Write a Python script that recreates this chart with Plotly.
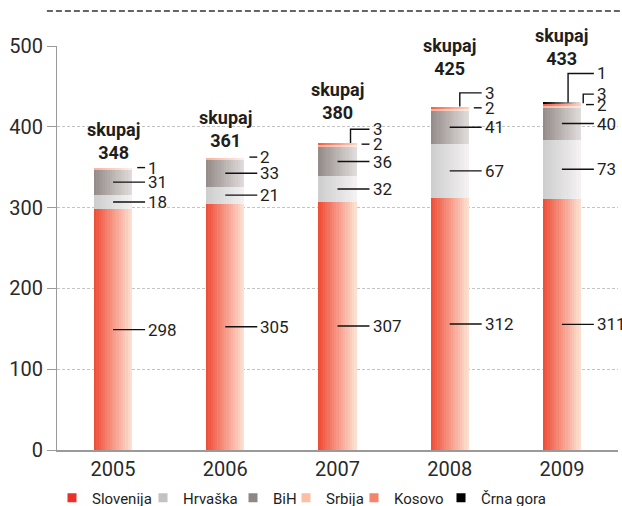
import plotly.graph_objects as go

# ---------------- data ----------------
years = ['2005', '2006', '2007', '2008', '2009']
slovenija = [298, 305, 307, 312, 311]
hrvaska = [18, 21, 32, 67, 73]
bih = [31, 33, 36, 41, 40]
srbija = [1, 2, 2, 2, 2]
kosovo = [0, 0, 3, 3, 3]
crna_gora = [0, 0, 0, 0, 1]
totals = [348, 361, 380, 425, 433]
y_ticks = [0, 100, 200, 300, 400, 500]
total_word = 'skupaj'

# ---------------- styles ----------------
FONT = 'Roboto'
TXT = '#1e1e1e'
series = [
    # name, values, legend colour, gradient left, gradient right
    ('Slovenija', slovenija, '#ea3128', (239, 80, 58), (253, 223, 208)),
    ('Hrvaška', hrvaska, '#c2c2c2', (206, 206, 206), (243, 241, 241)),
    ('BiH', bih, '#8d8785', (150, 141, 139), (223, 219, 218)),
    ('Srbija', srbija, '#fbbfa6', (251, 180, 155), (255, 236, 228)),
    ('Kosovo', kosovo, '#f4846a', (243, 98, 74), (253, 208, 192)),
    ('Črna gora', crna_gora, '#000000', (0, 0, 0), (226, 226, 226)),
]
main_labelled = ['Slovenija', 'Hrvaška', 'BiH']
dash_labelled = ['Srbija']
# bracket labels: (series, year index, x offset of riser, rise in data units above segment top)
brackets = [
    ('Kosovo', 2, 0.116, 17),
    ('Kosovo', 3, 0.09, 17),
    ('Kosovo', 4, 0.19, 11.5),
    ('Črna gora', 4, 0.055, 36),
]
total_shift = [4, 5, 18, 26, 29]
legend_px = [52, 143, 233, 286, 354, 441]

BAR_W = 0.34
N_STRIPS = 17
LINE_END = 0.285
TEXT_X = 0.295

xs = list(range(len(years)))

# cumulative bases
bases = {}
running = [0] * len(years)
for name, vals, *_ in series:
    bases[name] = list(running)
    running = [r + v for r, v in zip(running, vals)]

fig = go.Figure()

step = BAR_W / N_STRIPS
for name, vals, lc, c0, c1 in series:
    for k in range(N_STRIPS):
        t = k / (N_STRIPS - 1)
        col = 'rgb(%d,%d,%d)' % tuple(round(a + (b - a) * t) for a, b in zip(c0, c1))
        w = step * 1.25 if k < N_STRIPS - 1 else step
        fig.add_trace(go.Bar(
            x=xs, y=vals, base=bases[name], width=[w] * len(xs),
            offset=[-BAR_W / 2 + k * step] * len(xs),
            marker=dict(color=col, line=dict(width=0)),
            showlegend=False, hoverinfo='skip'))

# legend entries (one legend per entry for placement)
layout_legends = {}
for i, (name, vals, lc, c0, c1) in enumerate(series):
    key = 'legend' if i == 0 else 'legend%d' % (i + 1)
    fig.add_trace(go.Scatter(
        x=[None], y=[None], mode='markers', name=name, legend=key,
        marker=dict(symbol='square', size=9, color=lc, line=dict(width=0))))
    layout_legends[key] = dict(
        x=(legend_px[i] - 57) / 561, xanchor='left', y=-0.119, yanchor='middle',
        orientation='h', bgcolor='rgba(0,0,0,0)', itemwidth=30,
        font=dict(family=FONT, size=15, color=TXT))

shapes = []
annotations = []
LC = '#111111'

def seg_line(x0, y0, x1, y1):
    shapes.append(dict(type='line', xref='x', yref='y', x0=x0, y0=y0, x1=x1, y1=y1,
                       line=dict(color=LC, width=1.4)))

def label(x, y, txt):
    annotations.append(dict(x=x, y=y, xref='x', yref='y', text=txt, showarrow=False,
                            xanchor='left', yanchor='middle',
                            font=dict(family=FONT, size=17, color=TXT)))

for name, vals, *_ in series:
    for i, v in enumerate(vals):
        if v <= 0:
            continue
        b = bases[name][i]
        if name in main_labelled:
            ym = b + v / 2
            seg_line(xs[i], ym, xs[i] + LINE_END, ym)
            label(xs[i] + TEXT_X, ym, str(v))
        elif name in dash_labelled:
            ym = b + v + 1.5
            seg_line(xs[i] + 0.215, ym, xs[i] + LINE_END, ym)
            label(xs[i] + TEXT_X, ym, str(v))

for name, i, dx, rise in brackets:
    vals = dict((s[0], s[1]) for s in series)[name]
    top = bases[name][i] + vals[i]
    yl = top + rise
    shapes.append(dict(type='path', xref='x', yref='y',
                       path='M %f,%f L %f,%f L %f,%f' % (xs[i] + dx, top, xs[i] + dx, yl,
                                                          xs[i] + LINE_END, yl),
                       line=dict(color=LC, width=1.4)))
    label(xs[i] + TEXT_X, yl, str(vals[i]))

for i, t in enumerate(totals):
    annotations.append(dict(x=xs[i], y=t, xref='x', yref='y', showarrow=False,
                            text='<b>%s<br>%d</b>' % (total_word, t),
                            xanchor='center', yanchor='bottom', yshift=total_shift[i],
                            font=dict(family=FONT, size=18, color=TXT)))

# decorative dashed rule at the top
shapes.append(dict(type='line', xref='paper', yref='paper', x0=-0.018, x1=1.01,
                   y0=1.0866, y1=1.0866, line=dict(color='#333333', width=1.5, dash='6px,3px')))

fig.update_layout(
    width=622, height=506,
    margin=dict(l=57, r=4, t=46, b=56, autoexpand=False),
    paper_bgcolor='white', plot_bgcolor='white',
    barmode='overlay', bargap=0,
    shapes=shapes, annotations=annotations,
    font=dict(family=FONT, color=TXT),
    **layout_legends,
)
fig.update_xaxes(range=[-0.5, 4.5], tickvals=xs, ticktext=years, showgrid=False,
                 showline=True, linecolor='#9a9a9a', linewidth=1.5, ticks='',
                 tickfont=dict(family=FONT, size=20, color='#2a2a2a'), zeroline=False)
fig.update_yaxes(range=[0, 500], tickvals=y_ticks, showgrid=True, gridcolor='#c4c4c4',
                 griddash='3px,2px', gridwidth=1, showline=True, linecolor='#9a9a9a',
                 linewidth=1.2, ticks='outside', ticklen=9, tickcolor='#9a9a9a',
                 tickfont=dict(family=FONT, size=20, color='#2a2a2a'), zeroline=False)

fig.write_html('out.html', config={'displayModeBar': False},
               post_script="document.body.style.margin='0';document.body.style.overflow='hidden';")
